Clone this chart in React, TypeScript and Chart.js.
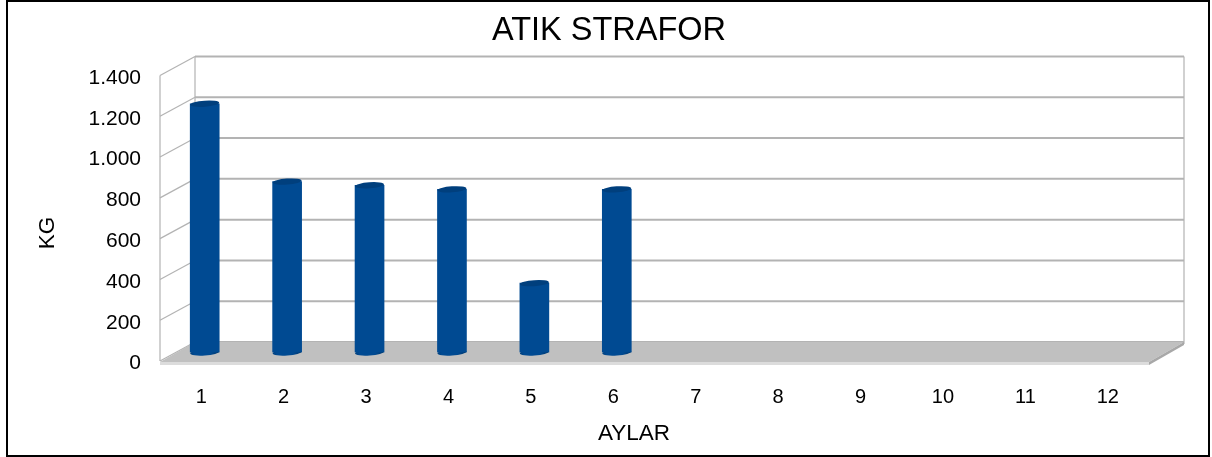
import React, { useEffect, useRef } from "react";
import { Chart, registerables } from "chart.js";

Chart.register(...registerables);

const categories = ["1", "2", "3", "4", "5", "6", "7", "8", "9", "10", "11", "12"];
const strafor = [1220, 838, 820, 800, 340, 800, null, null, null, null, null, null];
const titleText = "ATIK STRAFOR";
const xTitle = "AYLAR";
const yTitle = "KG";

const FONT = '"Liberation Sans", Arial, sans-serif';

const depth = { dx: 35, dy: -19 };
const frontShift = -2.5;
const barShift = { dx: 3.5, dy: -11 };
const TILT = -0.07;

function cylinderGradient(ctx: any, x: number, rx: number) {
  const g = ctx.createLinearGradient(x - rx, 0, x + rx, 0);
  g.addColorStop(0, "#003f7c");
  g.addColorStop(0.15, "#004a92");
  g.addColorStop(0.7, "#004a92");
  g.addColorStop(0.9, "#003c76");
  g.addColorStop(1, "#00305a");
  return g;
}

const scene3d = {
  id: "scene3d",
  beforeDraw(chart: any) {
    const { ctx, width, height } = chart;
    ctx.save();
    ctx.fillStyle = "#ffffff";
    ctx.fillRect(0, 0, width, height);
    ctx.strokeStyle = "#000000";
    ctx.lineWidth = 2;
    ctx.strokeRect(7, 1, 1202, 455);
    ctx.restore();
  },
  beforeDatasetsDraw(chart: any) {
    const { ctx } = chart;
    const xs = chart.scales.x;
    const ys = chart.scales.y;
    const L = xs.left;
    const R = xs.right;
    const fy = (v: number) => ys.getPixelForValue(v) + frontShift;
    const y0 = fy(0);
    const yMax = fy(ys.max);
    const { dx, dy } = depth;
    ctx.save();
    ctx.strokeStyle = "#b3b3b3";
    ys.ticks.forEach((t: any) => {
      const y = fy(t.value);
      ctx.lineWidth = 1.2;
      ctx.beginPath();
      ctx.moveTo(L, y);
      ctx.lineTo(L + dx, y + dy);
      ctx.stroke();
      ctx.lineWidth = 2;
      ctx.beginPath();
      ctx.moveTo(L + dx, y + dy);
      ctx.lineTo(R + dx, y + dy);
      ctx.stroke();
    });
    ctx.lineWidth = 1.2;
    ctx.beginPath();
    ctx.moveTo(L, y0);
    ctx.lineTo(L, yMax);
    ctx.moveTo(L + dx, y0 + dy);
    ctx.lineTo(L + dx, yMax + dy);
    ctx.moveTo(R + dx, y0 + dy + 2);
    ctx.lineTo(R + dx, yMax + dy);
    ctx.stroke();
    // floor
    ctx.fillStyle = "#c0c0c0";
    ctx.beginPath();
    ctx.moveTo(L, y0 + 1);
    ctx.lineTo(L + dx, y0 + dy);
    ctx.lineTo(R + dx, y0 + dy);
    ctx.lineTo(R, y0 + 1);
    ctx.closePath();
    ctx.fill();
    ctx.fillStyle = "#dcdcdc";
    ctx.fillRect(L, y0 + 1, R - L, 3);
    ctx.fillStyle = "#a8a8a8";
    ctx.beginPath();
    ctx.moveTo(R, y0 + 1);
    ctx.lineTo(R + dx, y0 + dy);
    ctx.lineTo(R + dx, y0 + dy + 3);
    ctx.lineTo(R, y0 + 4);
    ctx.closePath();
    ctx.fill();
    ctx.restore();
    // cylinders: shift bars to the middle of the floor's depth
    ctx.save();
    ctx.translate(barShift.dx, barShift.dy);
    const meta = chart.getDatasetMeta(0);
    meta.data.forEach((bar: any, i: number) => {
      if (strafor[i] == null) return;
      const rx = bar.width / 2;
      ctx.fillStyle = cylinderGradient(ctx, bar.x, rx);
      ctx.beginPath();
      ctx.ellipse(bar.x, bar.base, rx, 3, TILT, 0, Math.PI * 2);
      ctx.fill();
    });
    ctx.restore();
    ctx.save();
    ctx.translate(barShift.dx, barShift.dy);
  },
  afterDatasetsDraw(chart: any) {
    const { ctx } = chart;
    const meta = chart.getDatasetMeta(0);
    meta.data.forEach((bar: any, i: number) => {
      if (strafor[i] == null) return;
      const rx = bar.width / 2;
      ctx.fillStyle = "#003f7d";
      ctx.beginPath();
      ctx.ellipse(bar.x, bar.y, rx, 3, TILT, 0, Math.PI * 2);
      ctx.fill();
    });
    ctx.restore();
  },
  afterDraw(chart: any) {
    const { ctx } = chart;
    ctx.save();
    ctx.fillStyle = "#000000";
    ctx.font = `22.5px ${FONT}`;
    ctx.textAlign = "center";
    ctx.textBaseline = "middle";
    ctx.fillText(xTitle, 634, 434);
    ctx.translate(47.5, 233);
    ctx.rotate(-Math.PI / 2);
    ctx.fillText(yTitle, 0, 0);
    ctx.restore();
  },
};

export default function App() {
  const ref = useRef<HTMLCanvasElement>(null);
  useEffect(() => {
    document.body.style.margin = "0";
    const chart = new Chart(ref.current!, {
      type: "bar",
      plugins: [scene3d],
      data: {
        labels: categories,
        datasets: [
          {
            label: titleText,
            data: strafor,
            barThickness: 29,
            backgroundColor: (c: any) => {
              const el = c.element;
              if (!el || !el.width) return "#004a92";
              return cylinderGradient(c.chart.ctx, el.x, el.width / 2);
            },
          },
        ],
      },
      options: {
        animation: false,
        responsive: false,
        layout: { padding: { left: 6, right: 0, top: 0, bottom: 0 } },
        plugins: {
          legend: { display: false },
          tooltip: { enabled: false },
          title: {
            display: true,
            text: titleText,
            color: "#000000",
            font: { family: FONT, size: 32.5, weight: "normal", lineHeight: 1.2 },
            padding: { top: 12, bottom: 27 },
          },
        },
        scales: {
          x: {
            grid: { display: false, drawTicks: false },
            border: { display: false },
            ticks: { color: "#000000", font: { family: FONT, size: 20 }, padding: 22, maxRotation: 0 },
            afterFit: (s: any) => {
              s.height = 93.5;
            },
          },
          y: {
            min: 0,
            max: 1400,
            grid: { display: false, drawTicks: false },
            border: { display: false },
            ticks: {
              stepSize: 200,
              color: "#000000",
              font: { family: FONT, size: 21 },
              padding: 19,
              callback: (v: any) => String(v).replace(/\B(?=(\d{3})+$)/g, "."),
            },
            afterFit: (s: any) => {
              s.width = 154;
            },
          },
          rightGap: {
            position: "right",
            grid: { display: false, drawTicks: false },
            border: { display: false },
            ticks: { display: false },
            afterFit: (s: any) => {
              s.width = 63;
            },
          },
        },
      },
    });
    return () => chart.destroy();
  }, []);
  return <canvas ref={ref} width={1212} height={457} style={{ display: "block" }} />;
}
